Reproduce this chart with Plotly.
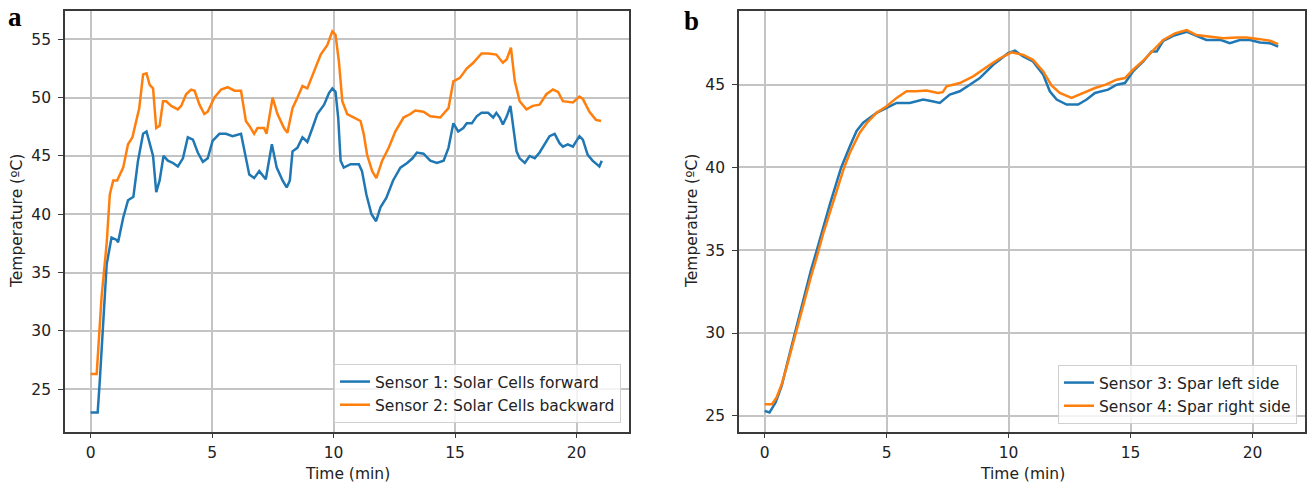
import plotly.graph_objects as go

# ---------------- Panel a: solar cells ----------------
t_s1 = [0, 0.29, 0.38, 0.52, 0.66, 0.86, 1.07, 1.13, 1.34, 1.54, 1.76, 1.95, 2.16, 2.3, 2.47, 2.57,
        2.7, 2.84, 3.0, 3.18, 3.39, 3.59, 3.8, 4.0, 4.21, 4.41, 4.62, 4.82, 5.02, 5.3, 5.57, 5.84,
        6.19, 6.39, 6.53, 6.73, 6.94, 7.21, 7.46, 7.66, 7.9, 8.07, 8.2, 8.31, 8.51, 8.72, 8.92,
        9.13, 9.33, 9.61, 9.81, 9.95, 10.08, 10.19, 10.29, 10.42, 10.7, 11.04, 11.17, 11.35,
        11.56, 11.75, 11.93, 12.17, 12.45, 12.75, 13.03, 13.25, 13.43, 13.7, 13.98, 14.25, 14.53,
        14.73, 14.93, 15.13, 15.34, 15.48, 15.69, 15.89, 16.09, 16.36, 16.57, 16.7, 16.84, 16.97,
        17.13, 17.28, 17.41, 17.53, 17.66, 17.87, 18.07, 18.28, 18.48, 18.69, 18.89, 19.1, 19.3,
        19.44, 19.64, 19.85, 20.12, 20.26, 20.46, 20.66, 20.94, 21.04]
s1 = [23.0, 23.0, 25.8, 30.6, 35.7, 38.0, 37.8, 37.6, 39.7, 41.2, 41.5, 44.6, 46.9, 47.1, 45.7, 45.0,
      41.9, 42.9, 45.0, 44.6, 44.4, 44.1, 44.8, 46.6, 46.4, 45.3, 44.5, 44.8, 46.3, 46.9, 46.9, 46.7,
      46.9, 44.9, 43.4, 43.1, 43.7, 43.0, 46.0, 44.0, 42.9, 42.3, 42.9, 45.4, 45.7, 46.6, 46.2,
      47.4, 48.6, 49.4, 50.4, 50.8, 50.5, 48.3, 44.6, 44.0, 44.3, 44.3, 43.7, 41.7,
      40.0, 39.4, 40.6, 41.4, 42.9, 44.0, 44.4, 44.8, 45.3, 45.2, 44.6, 44.4, 44.6,
      45.7, 47.8, 47.1, 47.4, 47.8, 47.8, 48.4, 48.7, 48.7, 48.3, 48.7, 48.3, 47.7,
      48.4, 49.3, 47.4, 45.4, 44.8, 44.4, 45.0, 44.8, 45.3, 46.0, 46.7, 46.9, 46.1,
      45.8, 46.0, 45.8, 46.7, 46.4, 45.1, 44.6, 44.1, 44.6]

t_s2 = [0, 0.25, 0.45, 0.66, 0.79, 0.93, 1.09, 1.34, 1.54, 1.72, 2.0, 2.16, 2.3, 2.43, 2.57, 2.64,
        2.7, 2.84, 2.98, 3.11, 3.32, 3.59, 3.73, 3.93, 4.14, 4.28, 4.48, 4.68, 4.82, 5.09, 5.37,
        5.64, 5.92, 6.19, 6.39, 6.53, 6.73, 6.87, 7.14, 7.24, 7.49, 7.69, 7.96, 8.1, 8.31, 8.51,
        8.72, 8.92, 9.19, 9.47, 9.74, 9.95, 10.08, 10.22, 10.36, 10.56, 10.84, 11.11, 11.24,
        11.38, 11.59, 11.76, 12.0, 12.27, 12.54, 12.88, 13.16, 13.36, 13.7, 13.98, 14.39, 14.73,
        14.93, 15.2, 15.48, 15.75, 16.09, 16.36, 16.7, 16.97, 17.13, 17.3, 17.46, 17.66, 17.94,
        18.2, 18.48, 18.76, 19.03, 19.24, 19.44, 19.85, 20.12, 20.26, 20.53, 20.8, 21.01]
s2 = [26.3, 26.3, 32.9, 37.5, 41.7, 42.9, 42.9, 44.0, 46.0, 46.6, 49.1, 52.0, 52.1, 51.1, 50.8, 48.6,
      47.4, 47.6, 49.7, 49.7, 49.3, 49.0, 49.3, 50.3, 50.7, 50.6, 49.4, 48.6, 48.8, 50.0, 50.7,
      50.9, 50.6, 50.6, 48.0, 47.6, 46.9, 47.4, 47.4, 46.9, 50.0, 48.6, 47.4, 47.0, 49.1, 50.0,
      51.0, 50.8, 52.3, 53.7, 54.5, 55.7, 55.4, 53.1, 49.7, 48.6, 48.3, 48.0, 46.9,
      45.1, 43.7, 43.1, 44.6, 45.7, 47.1, 48.3, 48.6, 48.9, 48.8, 48.4, 48.3, 49.1,
      51.4, 51.7, 52.5, 53.0, 53.8, 53.8, 53.7, 53.0, 53.3, 54.3, 51.4, 49.7, 49.0,
      49.3, 49.4, 50.3, 50.7, 50.5, 49.7, 49.6, 50.1, 49.9, 48.8, 48.1, 48.0]

# ---------------- Panel b: spar ----------------
t_s3 = [0, 0.2, 0.45, 0.7, 0.95, 1.24, 1.6, 1.9, 2.14, 2.4, 2.68, 2.95, 3.14, 3.5, 3.77, 4.04, 4.32,
        4.59, 5.0, 5.41, 5.95, 6.5, 6.87, 7.18, 7.59, 8.0, 8.41, 8.82, 9.37, 9.98, 10.26, 10.6,
        11.0, 11.42, 11.69, 11.97, 12.38, 12.85, 13.2, 13.54, 14.08, 14.43, 14.77, 15.1, 15.52,
        15.86, 16.07, 16.34, 16.75, 17.3, 17.7, 18.11, 18.7, 19.07, 19.48, 19.9, 20.3, 20.72, 21.05]
s3 = [25.3, 25.2, 25.8, 26.8, 28.3, 30.0, 32.1, 33.8, 35.0, 36.4, 37.8, 39.1, 40.0, 41.3, 42.2, 42.7, 43.0,
      43.3, 43.6, 43.9, 43.9, 44.1, 44.0, 43.9, 44.4, 44.6, 45.0, 45.4, 46.2, 46.9, 47.05, 46.7,
      46.4, 45.6, 44.6, 44.1, 43.8, 43.8, 44.1, 44.5, 44.7, 45.0, 45.1, 45.8, 46.4,
      47.0, 47.0, 47.65, 47.95, 48.2, 47.95, 47.7, 47.7, 47.5, 47.7, 47.7, 47.55, 47.5, 47.3]

t_s4 = [0, 0.3, 0.49, 0.7, 0.95, 1.24, 1.6, 1.9, 2.14, 2.4, 2.68, 2.95, 3.26, 3.5, 3.9, 4.2, 4.59,
        5.0, 5.41, 5.82, 6.2, 6.64, 7.1, 7.3, 7.46, 8.0, 8.55, 9.24, 9.6, 10.12, 10.6, 11.0, 11.42,
        11.76, 12.1, 12.58, 13.06, 13.54, 13.98, 14.43, 14.77, 15.1, 15.52, 15.93, 16.34, 16.82,
        17.3, 17.7, 18.25, 18.8, 19.35, 19.76, 20.3, 20.72, 21.05]
s4 = [25.7, 25.7, 26.1, 26.9, 28.2, 29.8, 31.8, 33.4, 34.6, 36.0, 37.3, 38.6, 40.0, 40.9, 42.1, 42.7, 43.3,
      43.7, 44.2, 44.6, 44.6, 44.65, 44.5, 44.55, 44.9, 45.1, 45.5, 46.2, 46.55, 46.95, 46.8, 46.5, 45.8,
      44.95, 44.5, 44.2, 44.5, 44.8, 45.0, 45.3, 45.4, 45.9, 46.45, 47.1, 47.7, 48.1,
      48.3, 48.0, 47.9, 47.8, 47.85, 47.85, 47.75, 47.65, 47.45]

x_ticks = [0, 5, 10, 15, 20]
ya_ticks = [25, 30, 35, 40, 45, 50, 55]
yb_ticks = [25, 30, 35, 40, 45]

BLUE = "#1f77b4"
ORANGE = "#ff7f0e"
FONT = "DejaVu Sans"
FS = 15.5
W, H = 1309, 486

fig = go.Figure()
fig.add_trace(go.Scatter(x=t_s1, y=s1, mode="lines", name="Sensor 1: Solar Cells forward",
                         line=dict(color=BLUE, width=2.5), xaxis="x", yaxis="y", legend="legend"))
fig.add_trace(go.Scatter(x=t_s2, y=s2, mode="lines", name="Sensor 2: Solar Cells backward",
                         line=dict(color=ORANGE, width=2.5), xaxis="x", yaxis="y", legend="legend"))
fig.add_trace(go.Scatter(x=t_s3, y=s3, mode="lines", name="Sensor 3: Spar left side",
                         line=dict(color=BLUE, width=2.5), xaxis="x2", yaxis="y2", legend="legend2"))
fig.add_trace(go.Scatter(x=t_s4, y=s4, mode="lines", name="Sensor 4: Spar right side",
                         line=dict(color=ORANGE, width=2.5), xaxis="x2", yaxis="y2", legend="legend2"))

ydom = [1 - 431.5 / H, 1 - 11 / H]
axis_common = dict(showline=True, mirror=True, linecolor="#3a3a3a", linewidth=1.6,
                   showgrid=True, gridcolor="#c4c4c4", gridwidth=1.6, zeroline=False,
                   ticks="outside", ticklen=5, tickcolor="#3a3a3a", tickwidth=1.3,
                   tickfont=dict(family=FONT, size=FS, color="#222"))
xaxis_extra = dict(ticklabelstandoff=1)
yaxis_extra = dict(ticklabelstandoff=4)

fig.update_layout(
    width=W, height=H,
    margin=dict(l=0, r=0, t=0, b=0),
    paper_bgcolor="white", plot_bgcolor="white",
    font=dict(family=FONT, size=FS, color="#222"),
    xaxis=dict(domain=[65 / W, 629 / W], range=[-1.055, 22.16], tickvals=x_ticks,
               anchor="y", **axis_common, **xaxis_extra),
    yaxis=dict(domain=ydom, range=[21.36, 57.44], tickvals=ya_ticks, anchor="x",
               **axis_common, **yaxis_extra),
    xaxis2=dict(domain=[739 / W, 1305 / W], range=[-1.05, 22.15], tickvals=x_ticks,
                anchor="y2", **axis_common, **xaxis_extra),
    yaxis2=dict(domain=ydom, range=[24.05, 49.45], tickvals=yb_ticks, anchor="x2",
                **axis_common, **yaxis_extra),
    legend=dict(x=621 / W, y=1 - 423 / H, xanchor="right", yanchor="bottom",
                bgcolor="rgba(255,255,255,0.8)", bordercolor="#d0d0d0", borderwidth=1,
                font=dict(family=FONT, size=FS, color="#222")),
    legend2=dict(x=1297 / W, y=1 - 424 / H, xanchor="right", yanchor="bottom",
                 bgcolor="rgba(255,255,255,0.8)", bordercolor="#d0d0d0", borderwidth=1,
                 font=dict(family=FONT, size=FS, color="#222")),
    showlegend=True,
)

annotations = [
    dict(text="Temperature (ºC)", x=17 / W, y=1 - 221 / H, textangle=-90),
    dict(text="Temperature (ºC)", x=692 / W, y=1 - 221 / H, textangle=-90),
    dict(text="Time (min)", x=347 / W, y=1 - 474 / H),
    dict(text="Time (min)", x=1022 / W, y=1 - 474 / H),
]
for a in annotations:
    fig.add_annotation(xref="paper", yref="paper", showarrow=False,
                       xanchor="center", yanchor="middle",
                       font=dict(family=FONT, size=FS, color="#222"), **a)

fig.add_annotation(text="<b>a</b>", xref="paper", yref="paper", x=15 / W, y=1 - 17 / H,
                   showarrow=False, xanchor="center", yanchor="middle",
                   font=dict(family="Liberation Serif", size=27, color="black"))
fig.add_annotation(text="<b>b</b>", xref="paper", yref="paper", x=691 / W, y=1 - 21 / H,
                   showarrow=False, xanchor="center", yanchor="middle",
                   font=dict(family="Liberation Serif", size=27, color="black"))

fig.write_html("out.html")
